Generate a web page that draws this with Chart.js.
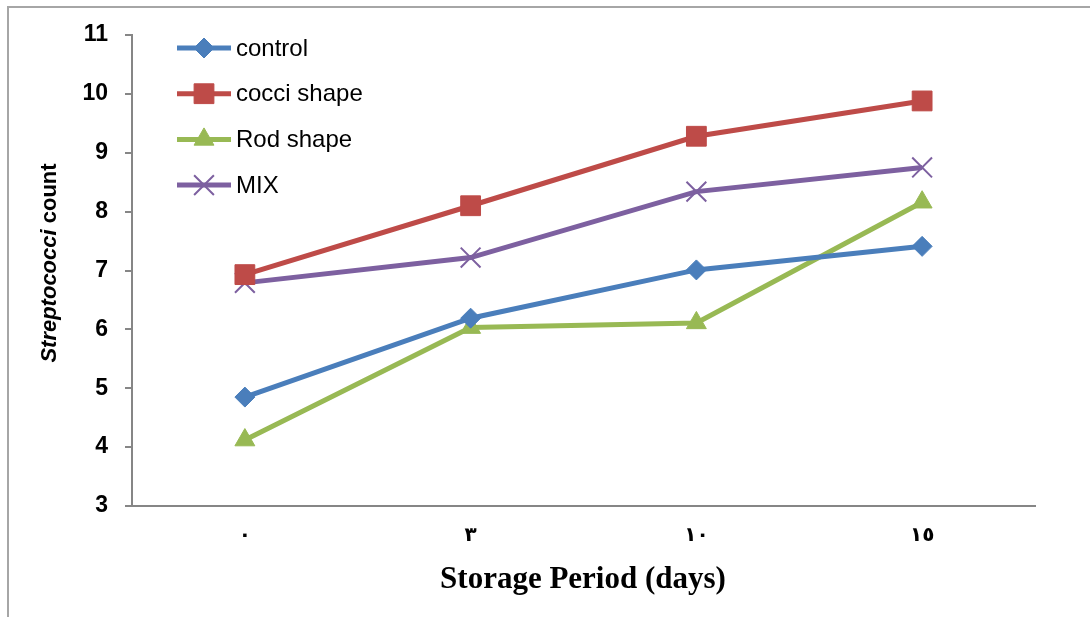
<!DOCTYPE html>
<html>
<head>
<meta charset="utf-8">
<script src="https://cdn.jsdelivr.net/npm/chart.js@4.4.1/dist/chart.umd.min.js"></script>
<style>
html,body{margin:0;padding:0;background:#fff;}
#wrap{width:1090px;height:617px;}
</style>
</head>
<body>
<div id="wrap"><canvas id="c" width="1090" height="617"></canvas></div>
<script>
const categories = ['٠', '٣', '١٠', '١٥'];
const seriesNames = ['control', 'cocci shape', 'Rod shape', 'MIX'];
const control = [4.85, 6.19, 7.01, 7.41];
const cocciShape = [6.93, 8.10, 9.28, 9.88];
const rodShape = [4.12, 6.03, 6.11, 8.16];
const mix = [6.79, 7.22, 8.34, 8.75];
const yTicks = [3, 4, 5, 6, 7, 8, 9, 10, 11];

const colors = ['#4a7ebb', '#be4b48', '#98b954', '#7d60a0'];
const styles = ['rectRot', 'rect', 'triangle', 'crossRot'];
const radii = [10, 14, 11.5, 14];

function ds(i, data) {
  return {
    label: seriesNames[i],
    data: data,
    borderColor: colors[i],
    backgroundColor: colors[i],
    borderWidth: 5,
    pointStyle: styles[i],
    pointRadius: radii[i],
    pointHoverRadius: radii[i],
    pointBackgroundColor: colors[i],
    pointBorderColor: colors[i],
    pointBorderWidth: styles[i] === 'crossRot' ? 2 : 1,
    tension: 0,
    fill: false
  };
}

const decor = {
  id: 'decor',
  beforeDraw(chart) {
    const ctx = chart.ctx;
    ctx.save();
    ctx.strokeStyle = '#a6a6a6';
    ctx.lineWidth = 2;
    ctx.beginPath();
    ctx.moveTo(8, 617);
    ctx.lineTo(8, 7);
    ctx.lineTo(1090, 7);
    ctx.stroke();
    ctx.restore();
  },
  afterDraw(chart) {
    const ctx = chart.ctx;
    ctx.save();
    ctx.translate(50, 263);
    ctx.rotate(-Math.PI / 2);
    ctx.fillStyle = '#000';
    ctx.textBaseline = 'middle';
    const f1 = 'italic bold 22px "Liberation Sans", Arial, sans-serif';
    const f2 = 'bold 22px "Liberation Sans", Arial, sans-serif';
    const t1 = 'Streptococci', t2 = ' count';
    ctx.font = f1; const w1 = ctx.measureText(t1).width;
    ctx.font = f2; const w2 = ctx.measureText(t2).width;
    const x0 = -(w1 + w2) / 2;
    ctx.textAlign = 'left';
    ctx.font = f1; ctx.fillText(t1, x0, 0);
    ctx.font = f2; ctx.fillText(t2, x0 + w1, 0);
    ctx.restore();

    ctx.save();
    ctx.fillStyle = '#000';
    ctx.font = 'bold 31px "Liberation Serif", "Times New Roman", serif';
    ctx.textAlign = 'center';
    ctx.textBaseline = 'middle';
    ctx.fillText('Storage Period (days)', 583, 580);
    ctx.restore();

    ctx.save();
    const lx0 = 177, lx1 = 231, ly0 = 48, dy = 45.7;
    chart.data.datasets.forEach((d, i) => {
      const y = ly0 + i * dy;
      ctx.strokeStyle = d.borderColor;
      ctx.lineWidth = 5;
      ctx.beginPath();
      ctx.moveTo(lx0, y);
      ctx.lineTo(lx1, y);
      ctx.stroke();
      ctx.fillStyle = d.backgroundColor;
      ctx.strokeStyle = d.borderColor;
      ctx.lineWidth = d.pointBorderWidth;
      Chart.helpers.drawPoint(ctx, {
        pointStyle: d.pointStyle,
        radius: d.pointRadius,
        rotation: 0,
        borderWidth: d.pointBorderWidth
      }, (lx0 + lx1) / 2, y);
      ctx.fillStyle = '#000';
      ctx.font = '24px "Liberation Sans", Arial, sans-serif';
      ctx.textAlign = 'left';
      ctx.textBaseline = 'middle';
      ctx.fillText(d.label, 236, y + 1);
    });
    ctx.restore();
  }
};

new Chart(document.getElementById('c'), {
  type: 'line',
  data: {
    labels: categories,
    datasets: [ds(0, control), ds(1, cocciShape), ds(2, rodShape), ds(3, mix)]
  },
  options: {
    responsive: false,
    animation: false,
    devicePixelRatio: 1,
    layout: { padding: { left: 0, top: 35, right: 55, bottom: 0 } },
    plugins: {
      legend: { display: false },
      title: { display: false },
      tooltip: { enabled: false }
    },
    scales: {
      x: {
        type: 'category',
        offset: true,
        afterFit(scale) { scale.height = 111; },
        grid: { display: true, drawOnChartArea: false, drawTicks: false, color: '#868686' },
        border: { display: true, color: '#868686', width: 2 },
        ticks: {
          color: '#000',
          font: { family: '"DejaVu Sans", sans-serif', size: 20, weight: 'bold' },
          padding: 18,
          maxRotation: 0
        }
      },
      y: {
        min: 3,
        max: 11,
        afterFit(scale) { scale.width = 132; },
        afterBuildTicks(scale) { scale.ticks = yTicks.map(v => ({ value: v })); },
        grid: { display: true, drawOnChartArea: false, drawTicks: true, tickLength: 7, color: '#868686', lineWidth: 2 },
        border: { display: true, color: '#868686', width: 2 },
        ticks: {
          color: '#000',
          font: { family: '"Liberation Sans", Arial, sans-serif', size: 23, weight: 'bold' },
          padding: 17
        }
      }
    }
  },
  plugins: [decor]
});
</script>
</body>
</html>
